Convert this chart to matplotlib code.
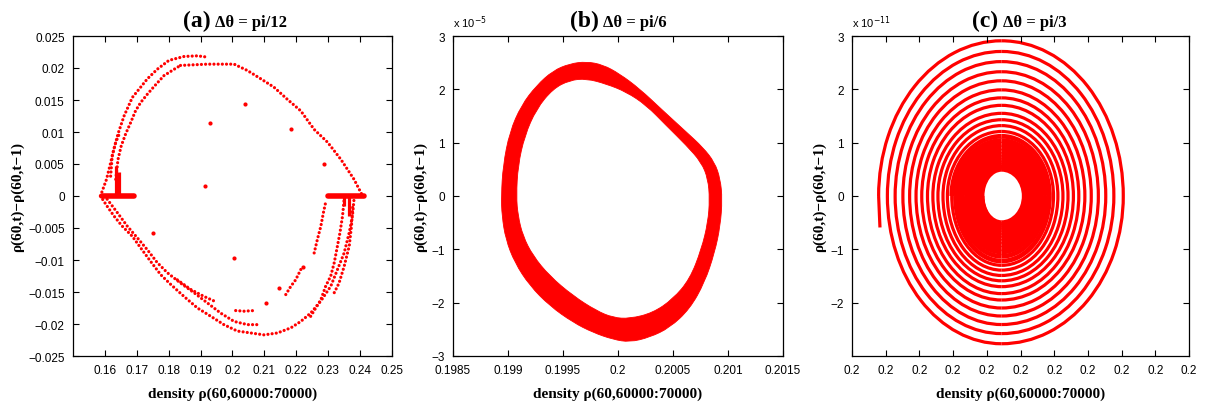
import matplotlib

matplotlib.use("Agg")
import matplotlib.pyplot as plt
import numpy as np
from matplotlib.patches import Arc, PathPatch
from matplotlib.path import Path
from matplotlib.ticker import FuncFormatter, FormatStrFormatter

RED = "#ff0000"
SERIF = "Liberation Serif"
plt.rcParams["font.family"] = ["Liberation Sans", "DejaVu Sans"]

XLABEL = "density \u03c1(60,60000:70000)"
YLABEL = "\u03c1(60,t)\u2212\u03c1(60,t\u22121)"

# ---- (a) dtheta = pi/12 : points strung along several bands ----
A_UP_OUT_X = [0.1586, 0.1605, 0.1618, 0.1628, 0.1641, 0.1660, 0.1686, 0.1712, 0.1733, 0.1764, 0.1801, 0.1848, 0.1890, 0.1921]
A_UP_OUT_Y = [0.0, 0.0026, 0.0052, 0.0073, 0.0097, 0.0125, 0.0154, 0.0170, 0.0183, 0.0198, 0.0212, 0.0218, 0.0219, 0.0217]
A_UP_MAIN_X = [0.1837, 0.1879, 0.1921, 0.1963, 0.2005, 0.2047, 0.2089, 0.2130, 0.2172, 0.2214, 0.2256, 0.2298, 0.2340, 0.2381, 0.2408]
A_UP_MAIN_Y = [0.0204, 0.0205, 0.0206, 0.0206, 0.0206, 0.0196, 0.0183, 0.0170, 0.0151, 0.0133, 0.0104, 0.0084, 0.0057, 0.0026, 0.0]
A_UP_IN_X = [0.1634, 0.1641, 0.1651, 0.1665, 0.1681, 0.1696, 0.1712, 0.1733, 0.1754, 0.1785, 0.1817, 0.1837]
A_UP_IN_Y = [0.0026, 0.0057, 0.0078, 0.0097, 0.0115, 0.0133, 0.0146, 0.0159, 0.0171, 0.0188, 0.0198, 0.0204]
A_UP_IN2_X = [0.1618, 0.1623, 0.1634, 0.1647]
A_UP_IN2_Y = [0.0031, 0.0063, 0.0084, 0.0099]
A_LOW_OUT_X = [0.1586, 0.1607, 0.1628, 0.1654, 0.1686, 0.1712, 0.1743, 0.1775, 0.1806, 0.1848, 0.1890, 0.1932, 0.1973,
               0.2015, 0.2057, 0.2099, 0.2141, 0.2183, 0.2214, 0.2245, 0.2277, 0.2308, 0.2329, 0.2350, 0.2366, 0.2376, 0.2381]
A_LOW_OUT_Y = [0.0, -0.0016, -0.0031, -0.0047, -0.0063, -0.0081, -0.0102, -0.0123, -0.0138, -0.0157, -0.0175, -0.0188, -0.0201,
               -0.0211, -0.0214, -0.0217, -0.0214, -0.0206, -0.0196, -0.0183, -0.0164, -0.0141, -0.0115, -0.0089, -0.0057, -0.0031, -0.0005]
A_LOW_IN_X = [0.1607, 0.1639, 0.1670, 0.1701, 0.1733, 0.1764, 0.1796, 0.1837, 0.1879, 0.1921, 0.1963, 0.2005, 0.2047, 0.2078]
A_LOW_IN_Y = [-0.0005, -0.0026, -0.0047, -0.0065, -0.0084, -0.0104, -0.0120, -0.0136, -0.0151, -0.0167, -0.0183, -0.0196, -0.0201, -0.0201]
A_LOW_MID_X = [0.1827, 0.1869, 0.1911, 0.1942]
A_LOW_MID_Y = [-0.0131, -0.0146, -0.0157, -0.0164]
A_LOW_ROW_X = [0.2010, 0.2036, 0.2068]
A_LOW_ROW_Y = [-0.0179, -0.0180, -0.0179]
A_R1_X = [0.2167, 0.2183, 0.2198, 0.2219]
A_R1_Y = [-0.0154, -0.0141, -0.0131, -0.0110]
A_R2_X = [0.2256, 0.2266, 0.2277, 0.2285, 0.2292]
A_R2_Y = [-0.0089, -0.0068, -0.0047, -0.0026, -0.0010]
A_R3_X = [0.2245, 0.2277, 0.2292, 0.2308, 0.2319, 0.2329, 0.2337, 0.2345, 0.2350]
A_R3_Y = [-0.0188, -0.0162, -0.0141, -0.0125, -0.0104, -0.0078, -0.0057, -0.0031, -0.0005]
A_R4_X = [0.2319, 0.2334, 0.2350, 0.2366, 0.2373, 0.2377]
A_R4_Y = [-0.0151, -0.0136, -0.0110, -0.0078, -0.0047, -0.0016]
# horizontal clusters on y = 0 and short vertical stubs
A_BAR_LEFT = [0.1590, 0.1691]
A_BAR_RIGHT = [0.2298, 0.2413]
A_STUB_X = [0.1634, 0.1644, 0.2350, 0.2366]
A_STUB_TOP = [0.0047, 0.0037, 0.0, 0.0]
A_STUB_BOT = [0.0, 0.0, -0.0016, -0.0031]
A_LONE_X = [0.1913, 0.1928, 0.2040, 0.2183, 0.2286, 0.2006, 0.1752, 0.2146, 0.2220, 0.2105]
A_LONE_Y = [0.0015, 0.0114, 0.0143, 0.0105, 0.0050, -0.0097, -0.0058, -0.0143, -0.0111, -0.0167]

# ---- (b) dtheta = pi/6 : thick closed band (y in units of 1e-5) ----
B_OUT_X = [0.198939, 0.198955, 0.199015, 0.199121, 0.199258, 0.199409, 0.199561, 0.199712, 0.199864, 0.200015, 0.200197,
           0.200409, 0.200621, 0.200773, 0.200879, 0.200930, 0.200948, 0.200930, 0.200879, 0.200788, 0.200652, 0.200470,
           0.200288, 0.200106, 0.199955, 0.199773, 0.199591, 0.199379, 0.199197, 0.199061, 0.198979, 0.198945]
B_OUT_Y = [0.0, 0.57, 1.20, 1.70, 2.07, 2.35, 2.48, 2.52, 2.46, 2.29, 2.01, 1.60, 1.20, 0.91, 0.63, 0.32, -0.06, -0.56,
           -1.06, -1.62, -2.12, -2.47, -2.65, -2.74, -2.69, -2.56, -2.37, -2.06, -1.68, -1.25, -0.81, -0.37]
B_IN_X = [0.199076, 0.199091, 0.199152, 0.199258, 0.199409, 0.199561, 0.199712, 0.199894, 0.200076, 0.200258, 0.200439,
          0.200621, 0.200758, 0.200818, 0.200833, 0.200818, 0.200758, 0.200652, 0.200500, 0.200318, 0.200106, 0.199955,
          0.199803, 0.199591, 0.199379, 0.199227, 0.199136, 0.199091]
B_IN_Y = [0.0, 0.57, 1.13, 1.63, 2.01, 2.17, 2.20, 2.10, 1.95, 1.70, 1.32, 0.95, 0.63, 0.32, -0.06, -0.49, -1.00, -1.56,
          -1.93, -2.19, -2.30, -2.28, -2.15, -1.87, -1.50, -1.12, -0.75, -0.37]

# ---- (c) dtheta = pi/3 : inward spiral, extreme points of each turn ----
# x as offsets from 0.2 in units of 1e-10, y in units of 1e-11
C_CENTER_X = -0.56
C_START = (-4.17, -0.59)
C_LEFT = [-4.21, -3.95, -3.72, -3.49, -3.29, -3.10, -2.93, -2.76, -2.60, -2.45, -2.30, -2.17, -2.04,
          -1.93, -1.83, -1.74, -1.65, -1.57, -1.50, -1.43, -1.37, -1.31, -1.26, -1.21, -1.17, -1.14]
C_TOP = [2.91, 2.71, 2.52, 2.33, 2.16, 1.99, 1.84, 1.70, 1.55, 1.43, 1.32, 1.21, 1.12,
         1.04, 0.97, 0.90, 0.84, 0.78, 0.73, 0.68, 0.64, 0.60, 0.57, 0.54, 0.52, 0.50]
C_RIGHT = [3.05, 2.77, 2.53, 2.31, 2.10, 1.91, 1.73, 1.57, 1.41, 1.26, 1.11, 0.98, 0.86,
           0.75, 0.65, 0.56, 0.48, 0.41, 0.35, 0.30, 0.25, 0.21, 0.18, 0.15, 0.13, 0.11]
C_BOTTOM = [-2.77, -2.58, -2.41, -2.25, -2.10, -1.95, -1.83, -1.70, -1.59, -1.49, -1.39, -1.30, -1.22,
            -1.13, -1.05, -0.98, -0.91, -0.85, -0.79, -0.74, -0.69, -0.64, -0.60, -0.56, -0.53, -0.50]
C_DENSE_FROM = 12  # turns from here on blur into a solid band

FIG_W, FIG_H = 1212, 406
C_LW = 2.3


def minus_fmt(v, _pos):
    return f"{v:g}".replace("-", "\u2212")


def dotted(ax, xs, ys):
    ax.plot(xs, ys, color=RED, lw=2.3, ls=(0, (0.01, 1.3)), dash_capstyle="round")


def smooth_loop(xs, ys):
    # closed quadratic curve using the read points as control vertices
    pts = np.column_stack([xs, ys])
    mids = (pts + np.roll(pts, -1, axis=0)) / 2
    verts = [mids[-1]]
    codes = [Path.MOVETO]
    for p, m in zip(pts, mids):
        verts += [p, m]
        codes += [Path.CURVE3, Path.CURVE3]
    return verts, codes


def decorate(ax, letter, subtitle, split):
    ax.tick_params(direction="in", top=True, right=True, length=4, width=0.8, labelsize=8.5, pad=6)
    for sp in ax.spines.values():
        sp.set_linewidth(0.9)
    ax.annotate(letter, xy=(split, 1), xycoords="axes fraction", xytext=(0, 7), textcoords="offset points",
                ha="right", va="baseline", fontsize=17, fontweight="bold", family=SERIF)
    ax.annotate(subtitle, xy=(split, 1), xycoords="axes fraction", xytext=(3, 7), textcoords="offset points",
                ha="left", va="baseline", fontsize=12, fontweight="bold", family=SERIF)
    ax.set_xlabel(XLABEL, fontsize=11, fontweight="bold", family=SERIF, labelpad=7)
    ax.set_ylabel(YLABEL, fontsize=11, fontweight="bold", family=SERIF, labelpad=3)


def exponent_label(ax, power):
    ax.annotate(f"x 10$^{{{power}}}$", xy=(0, 1), xycoords="axes fraction", xytext=(0, 4),
                textcoords="offset points", ha="left", va="bottom", fontsize=8)


def panel_a(ax):
    bands = [
        (A_UP_OUT_X, A_UP_OUT_Y), (A_UP_MAIN_X, A_UP_MAIN_Y), (A_UP_IN_X, A_UP_IN_Y), (A_UP_IN2_X, A_UP_IN2_Y),
        (A_LOW_OUT_X, A_LOW_OUT_Y), (A_LOW_IN_X, A_LOW_IN_Y), (A_LOW_MID_X, A_LOW_MID_Y), (A_LOW_ROW_X, A_LOW_ROW_Y),
        (A_R1_X, A_R1_Y), (A_R2_X, A_R2_Y), (A_R3_X, A_R3_Y), (A_R4_X, A_R4_Y),
    ]
    for xs, ys in bands:
        dotted(ax, xs, ys)
    for bar in (A_BAR_LEFT, A_BAR_RIGHT):
        ax.plot(bar, [0, 0], color=RED, lw=4, solid_capstyle="round")
    ax.vlines(A_STUB_X, A_STUB_BOT, A_STUB_TOP, color=RED, lw=2.3)
    ax.plot(A_LONE_X, A_LONE_Y, "o", color=RED, ms=3, mec="none")

    ax.set_xlim(0.15, 0.25)
    ax.set_ylim(-0.025, 0.025)
    ax.set_xticks(np.arange(0.16, 0.2501, 0.01))
    ax.set_yticks(np.arange(-0.025, 0.02501, 0.005))
    ax.xaxis.set_major_formatter(FuncFormatter(lambda v, p: minus_fmt(round(v, 3), p)))
    ax.yaxis.set_major_formatter(FuncFormatter(lambda v, p: minus_fmt(round(v, 4), p)))
    decorate(ax, "(a)", "\u0394\u03b8 = pi/12", 0.432)


def panel_b(ax):
    v_out, c_out = smooth_loop(B_OUT_X, B_OUT_Y)
    v_in, c_in = smooth_loop(B_IN_X[::-1], B_IN_Y[::-1])
    ring = Path(v_out + v_in, c_out + c_in)
    ax.add_patch(PathPatch(ring, facecolor=RED, edgecolor=RED, lw=0.6))
    ax.set_xlim(0.1985, 0.2015)
    ax.set_ylim(-3, 3)
    ax.set_xticks(np.arange(0.1985, 0.20151, 0.0005))
    ax.set_yticks(np.arange(-3, 4, 1))
    ax.xaxis.set_major_formatter(FuncFormatter(lambda v, p: minus_fmt(round(v, 4), p)))
    ax.yaxis.set_major_formatter(FuncFormatter(minus_fmt))
    exponent_label(ax, -5)
    decorate(ax, "(b)", "\u0394\u03b8 = pi/6", 0.441)


def quarter(ax, rx, ry, t1, t2, lw):
    cx = 0.2 + C_CENTER_X * 1e-10
    ax.add_patch(Arc((cx, 0), 2 * rx * 1e-10, 2 * ry, theta1=t1, theta2=t2, color=RED, lw=lw))


def panel_c(ax):
    n = len(C_LEFT)
    ax.plot([0.2 + C_START[0] * 1e-10, 0.2 + C_LEFT[0] * 1e-10], [C_START[1], 0], color=RED, lw=C_LW,
            solid_capstyle="butt")
    for k in range(n):
        lw = C_LW if k < C_DENSE_FROM else 3.4
        left_r = C_CENTER_X - C_LEFT[k]
        right_r = C_RIGHT[k] - C_CENTER_X
        next_left_r = C_CENTER_X - C_LEFT[min(k + 1, n - 1)]
        quarter(ax, left_r, C_TOP[k], 90, 180, lw)
        quarter(ax, right_r, C_TOP[k], 0, 90, lw)
        quarter(ax, right_r, -C_BOTTOM[k], 270, 360, lw)
        quarter(ax, next_left_r, -C_BOTTOM[k], 180, 270, lw)
    ticks = 0.2 + np.arange(-5, 6) * 1e-10
    ax.set_xlim(ticks[0], ticks[-1])
    ax.set_ylim(-3, 3)
    ax.set_xticks(ticks)
    ax.set_yticks(np.arange(-2, 4, 1))
    ax.xaxis.set_major_formatter(FormatStrFormatter("%.1f"))
    ax.yaxis.set_major_formatter(FuncFormatter(minus_fmt))
    exponent_label(ax, -11)
    decorate(ax, "(c)", "\u0394\u03b8 = pi/3", 0.435)


def main():
    fig = plt.figure(figsize=(FIG_W / 100, FIG_H / 100), dpi=100)
    bottom, height = 1 - 357 / FIG_H, 320 / FIG_H
    ax_a = fig.add_axes([73 / FIG_W, bottom, 319 / FIG_W, height])
    ax_b = fig.add_axes([453 / FIG_W, bottom, 330 / FIG_W, height])
    ax_c = fig.add_axes([852 / FIG_W, bottom, 337 / FIG_W, height])
    panel_a(ax_a)
    panel_b(ax_b)
    panel_c(ax_c)
    fig.savefig("out.png", dpi=100, facecolor="white")
    plt.close(fig)


if __name__ == "__main__":
    main()
